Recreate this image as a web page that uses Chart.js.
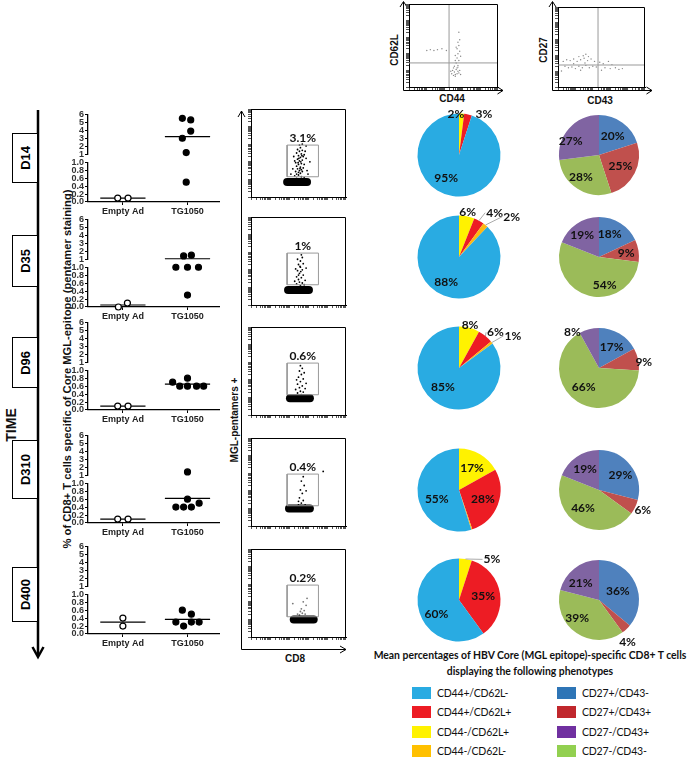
<!DOCTYPE html>
<html>
<head>
<meta charset="utf-8">
<script src="https://cdn.jsdelivr.net/npm/chart.js@4.4.0/dist/chart.umd.min.js"></script>
<style>
body { margin: 0; background: #fff; }
#page { position: relative; width: 688px; height: 759px; overflow: hidden; font-family: "Liberation Sans", Arial, sans-serif; }
canvas { position: absolute; }
svg { position: absolute; left: 0; top: 0; }
.rot { position: absolute; white-space: nowrap; transform: translate(-50%, -50%) rotate(-90deg); font-weight: bold; color: #111; }
.txt { position: absolute; white-space: nowrap; transform: translate(-50%, -50%); font-weight: bold; color: #111; }
.day { position: absolute; left: 12px; width: 24px; border: 1.5px solid #000; background: #fff; display: flex; align-items: center; justify-content: center; }
.day span { writing-mode: vertical-rl; transform: rotate(180deg); font: bold 13px "Liberation Sans", Arial, sans-serif; }
#legTitle { position: absolute; left: 360px; top: 647px; width: 340px; text-align: center; font: bold 10.4px Lato, sans-serif; line-height: 16px; color: #111; white-space: nowrap; }
.leg { position: absolute; font: 10.5px Lato, sans-serif; letter-spacing: -0.2px; color: #111; height: 12px; line-height: 12px; white-space: nowrap; }
.leg i { display: inline-block; width: 19px; height: 12px; vertical-align: top; margin-right: 6px; }
</style>
</head>
<body>
<div id="page">
<svg width="688" height="759">
  <!-- time arrow -->
  <line x1="38" y1="110" x2="38" y2="656" stroke="#000" stroke-width="2.5"/>
  <polyline points="32.5,647 38,657 43.5,647" fill="none" stroke="#000" stroke-width="2.5"/>
  <!-- MGL-pentamers / CD8 axis -->
  <polyline points="241.5,111 241.5,649.5 346,649.5" fill="none" stroke="#000" stroke-width="1"/>
  <polyline points="238,117 241.5,111 245,117" fill="none" stroke="#000" stroke-width="1"/>
  <polyline points="340,646 346,649.5 340,653" fill="none" stroke="#000" stroke-width="1"/>
  <!-- CD44/CD62L axes -->
  <polyline points="403.5,2 403.5,90.5 503,90.5" fill="none" stroke="#000" stroke-width="1"/>
  <polyline points="400,7 403.5,1.5 407,7" fill="none" stroke="#000" stroke-width="1"/>
  <polyline points="497.5,87 503,90.5 497.5,94" fill="none" stroke="#000" stroke-width="1"/>
  <!-- CD43/CD27 axes -->
  <polyline points="552.5,2 552.5,90.5 652,90.5" fill="none" stroke="#000" stroke-width="1"/>
  <polyline points="549,7 552.5,1.5 556,7" fill="none" stroke="#000" stroke-width="1"/>
  <polyline points="646.5,87 652,90.5 646.5,94" fill="none" stroke="#000" stroke-width="1"/>
</svg>
<div class="rot" style="left:11px;top:425px;font-size:14px">TIME</div>
<div class="rot" style="left:67px;top:369px;font-size:11.2px">% of CD8+ T cells specific of Core MGL-epitope (pentamer staining)</div>
<div class="rot" style="left:234px;top:420px;font-size:10px">MGL-pentamers +</div>
<div class="txt" style="left:295px;top:658px;font-size:10px">CD8</div>
<div class="rot" style="left:394px;top:50px;font-size:10px">CD62L</div>
<div class="txt" style="left:452px;top:98px;font-size:10px">CD44</div>
<div class="rot" style="left:543px;top:50px;font-size:10px">CD27</div>
<div class="txt" style="left:600px;top:100px;font-size:10px">CD43</div>
<div id="legTitle">Mean percentages of HBV Core (MGL epitope)-specific CD8+ T cells<br>displaying the following phenotypes</div>
</div>
<script>
Chart.defaults.animation = false;
Chart.defaults.responsive = false;
Chart.defaults.plugins.legend.display = false;
Chart.defaults.plugins.tooltip.enabled = false;

// ---- data ----
const days = ['D14', 'D35', 'D96', 'D310', 'D400'];
const groups = ['Empty Ad', 'TG1050'];
const yTopTicks = [1, 2, 3, 4, 5, 6];
const yBotTicks = [0, 0.2, 0.4, 0.6, 0.8, 1.0];

// % pentamer+ CD8 T cells, one value per mouse; *X = horizontal spread inside the group
const emptyAd = [[0.1, 0.1], [0.0, 0.1], [0.1, 0.1], [0.1, 0.1], [0.4, 0.2]];
const emptyAdX = [[0.92, 1.08], [0.93, 1.07], [0.92, 1.08], [0.92, 1.08], [1.0, 1.0]];
const tg1050 = [
  [5.5, 5.3, 3.9, 3.0, 1.2, 0.5],
  [1.4, 1.5, 1.0, 1.0, 1.0, 0.3],
  [0.7, 0.8, 0.6, 0.6, 0.6, 0.6],
  [1.4, 0.6, 0.4, 0.4, 0.4, 0.5],
  [0.6, 0.5, 0.3, 0.2, 0.3, 0.3]
];
const tg1050X = [
  [1.92, 2.05, 2.05, 1.92, 1.98, 1.98],
  [1.94, 2.06, 1.82, 2.0, 2.17, 2.0],
  [1.77, 2.0, 1.88, 2.0, 2.14, 2.25],
  [2.0, 2.0, 1.82, 1.94, 2.06, 2.18],
  [1.92, 2.06, 1.82, 1.94, 2.06, 2.18]
];
const emptyMean = [0.1, 0.05, 0.1, 0.1, 0.3];
const tgMean = [3.2, 1.05, 0.65, 0.62, 0.37];

// flow dot plots (log decades)
const gatePct = ['3.1%', '1%', '0.6%', '0.4%', '0.2%'];
const gateX = [1.9, 3.55];
const gateY = [1.15, 2.95];
const negCluster = [[1.9, 2.95, 0.85], [1.95, 3.05, 0.85], [2.05, 3.1, 0.95], [2.0, 3.1, 1.0], [2.25, 3.3, 1.0]];
const tailEvents = [
  [[2.3,1.2],[2.4,1.3],[2.5,1.25],[2.6,1.35],[2.35,1.45],[2.55,1.5],[2.7,1.45],[2.45,1.6],[2.6,1.7],[2.4,1.75],[2.75,1.65],[2.5,1.85],[2.65,1.9],[2.35,1.95],[2.8,1.85],[2.55,2.05],[2.7,2.1],[2.45,2.15],[2.6,2.25],[2.75,2.3],[2.5,2.35],[2.65,2.45],[2.4,2.5],[2.8,2.4],[2.55,2.6],[2.7,2.65],[2.6,2.8],[2.45,2.7],[2.9,2.2],[2.3,2.05],[2.85,2.6],[2.2,1.6],[2.95,1.5],[2.1,1.3],[3.0,1.3],[2.65,1.15],[2.4,1.05],[2.8,1.1],[2.55,2.95],[2.7,3.0],[3.1,2.0],[2.25,2.3],[2.9,2.9],[2.5,1.4],[2.65,1.55],[2.58,1.62],[2.48,1.95],[2.62,2.0],[2.52,2.2],[2.68,2.35]],
  [[2.4,1.2],[2.55,1.3],[2.7,1.25],[2.5,1.45],[2.65,1.55],[2.4,1.6],[2.75,1.7],[2.55,1.8],[2.45,1.95],[2.7,2.0],[2.6,2.15],[2.5,2.3],[2.75,2.35],[2.6,2.5],[2.45,2.6],[2.7,2.7],[2.85,1.4],[2.3,1.35],[2.9,2.1],[2.35,2.05],[2.6,1.1],[2.8,1.15],[2.65,2.85],[2.5,1.7],[2.62,1.9],[2.58,2.2]],
  [[2.45,1.25],[2.6,1.35],[2.75,1.3],[2.55,1.55],[2.7,1.65],[2.45,1.75],[2.6,1.9],[2.75,2.05],[2.5,2.15],[2.65,2.3],[2.55,2.5],[2.7,2.65],[2.85,1.5],[2.35,1.45],[2.6,2.8],[2.8,2.4],[2.4,2.0],[2.65,1.15],[2.9,1.8]],
  [[2.5,1.2],[2.65,1.3],[2.75,1.45],[2.55,1.6],[2.7,1.85],[2.6,2.05],[2.8,2.3],[2.65,2.55],[2.75,2.8],[2.5,1.4],[2.85,1.2],[2.6,1.15],[3.8,3.1],[2.9,2.0]],
  [[2.55,1.25],[2.7,1.35],[2.8,1.5],[2.65,1.6],[2.9,1.8],[2.75,2.0],[2.6,1.45],[2.85,1.3],[2.2,1.9],[2.45,1.3],[2.95,2.2]]
];

// example phenotype plots at the top
const cd44Events = [[2.5,0.7],[2.6,0.75],[2.7,0.8],[2.55,0.9],[2.75,0.95],[2.45,1.0],[2.65,1.05],[2.8,0.85],[2.5,1.15],[2.6,0.65],[2.7,1.15],[2.85,1.0],[2.4,0.8],[2.55,1.25],[2.75,1.3],[2.65,1.45],[2.8,1.6],[2.7,1.75],[2.6,1.9],[2.75,2.0],[2.85,2.15],[2.7,2.3],[2.8,2.5],[2.75,2.7],[2.9,1.85],[2.65,2.4],[2.8,3.3],[2.75,1.2],[2.9,0.75],[2.35,0.95],[1.0,2.2],[1.2,2.25],[1.4,2.2],[1.6,2.25],[1.85,2.3],[2.1,2.2],[2.6,1.6],[2.85,2.85]];
const cd44Quad = [2.25, 1.45];
const cd43Events = [[0.3,1.6],[0.5,1.7],[0.7,1.65],[0.9,1.75],[1.1,1.6],[1.3,1.7],[1.5,1.8],[1.7,1.65],[1.9,1.75],[2.1,1.6],[0.4,1.3],[0.6,1.2],[0.8,1.25],[1.0,1.15],[1.2,1.3],[1.4,1.2],[1.6,1.35],[1.8,1.2],[2.0,1.3],[2.2,1.25],[1.45,1.95],[1.6,2.05],[1.2,1.9],[1.75,1.9],[2.4,1.55],[2.6,1.45],[2.9,1.6],[3.1,1.4],[2.7,1.2],[3.0,1.15],[3.3,1.2],[3.5,1.1],[3.7,1.15],[2.5,1.05],[0.2,1.0],[1.3,1.05],[0.9,1.45],[1.55,1.5]];
const cd43Quad = [2.3, 1.375];

// pies, in clockwise order from 12 o'clock
const cd44Labels = ['CD44-/CD62L+', 'CD44+/CD62L+', 'CD44-/CD62L-', 'CD44+/CD62L-'];
const cd44Colors = ['#FFF200', '#ED1C24', '#FDB813', '#29ABE2'];
const cd44Pct = [[2, 3, 0, 95], [6, 4, 2, 88], [8, 6, 1, 85], [17, 28, 0.4, 55], [5, 35, 0, 60]];
const cd27Labels = ['CD27+/CD43-', 'CD27+/CD43+', 'CD27-/CD43-', 'CD27-/CD43+'];
const cd27Colors = ['#4F81BD', '#C0504D', '#9BBB59', '#8064A2'];
const cd27Pct = [[20, 25, 28, 27], [18, 9, 54, 19], [17, 9, 66, 8], [29, 6, 46, 19], [36, 4, 39, 21]];

// legend (order as printed)
const legLeft = [['CD44+/CD62L-', '#29ABE2'], ['CD44+/CD62L+', '#ED1C24'], ['CD44-/CD62L+', '#FFF200'], ['CD44-/CD62L-', '#FFC000']];
const legRight = [['CD27+/CD43-', '#2E75B6'], ['CD27+/CD43+', '#C0272D'], ['CD27-/CD43+', '#7030A0'], ['CD27-/CD43-', '#92D050']];

// ---- layout ----
const rowTop = [114, 219, 322, 435, 546];
const flowTop = [109, 217, 327, 438, 549];
const pieY = [155, 257, 368, 490, 600];
const dayBox = [[133, 181], [235, 285], [337, 386], [440, 497], [567, 620]];
const meanHalf = 0.35;

// label placement of pie percentages: f = radius factor, da = angle nudge (deg), lead = leader line
const cd44Place = [
  [{ da: -8, f: 0.98 }, { da: 19, f: 1.15 }, null, { da: 20, f: 0.64 }],
  [{ f: 1.11 }, { da: 10, f: 1.37, lead: 1 }, { da: 13, f: 1.6, lead: 1 }, { da: 5, f: 0.69 }],
  [{ f: 1.07 }, { da: 6, f: 1.23, lead: 1 }, { da: 7, f: 1.51, lead: 1 }, { da: 13, f: 0.6 }],
  [{}, {}, null, { da: -14, f: 0.58 }],
  [{ da: 30, f: 1.26, lead: 1 }, { f: 0.59 }, null, { da: -14, f: 0.64 }]
];
const cd27Place = [
  [{ f: 0.58 }, { f: 0.6 }, { da: 7, f: 0.71 }, { da: -15, f: 0.79 }],
  [{ da: -7 }, { f: 0.69 }, { da: -26, f: 0.71 }, { da: -4, f: 0.68 }],
  [{}, { da: 5, f: 1.13 }, { da: 6 }, { da: -22, f: 1.12 }],
  [{ da: 3, f: 0.65 }, { f: 1.21 }, { da: 13, f: 0.6 }, {}],
  [{ f: 0.52 }, { da: 9, f: 1.27 }, { da: 16, f: 0.71 }, { da: -10 }]
];

const page = document.getElementById('page');
function makeCanvas(left, top, w, h) {
  const c = document.createElement('canvas');
  c.width = w; c.height = h;
  c.style.left = left + 'px'; c.style.top = top + 'px';
  c.style.width = w + 'px'; c.style.height = h + 'px';
  page.appendChild(c);
  return c.getContext('2d');
}

// day boxes
days.forEach((d, i) => {
  const b = document.createElement('div');
  b.className = 'day';
  b.style.top = dayBox[i][0] + 'px';
  b.style.height = (dayBox[i][1] - dayBox[i][0]) + 'px';
  b.innerHTML = '<span>' + d + '</span>';
  page.appendChild(b);
});

// legend
[legLeft, legRight].forEach((col, c) => {
  col.forEach(([name, color], j) => {
    const el = document.createElement('div');
    el.className = 'leg';
    el.style.left = (c ? 557 : 412) + 'px';
    el.style.top = (687 + j * 19.3) + 'px';
    el.innerHTML = '<i style="background:' + color + '"></i>' + name;
    page.appendChild(el);
  });
});

// ---- scatter plots with broken y axis ----
const axisFont = { family: '"Liberation Sans", Arial', size: 9, weight: 'bold' };
function yAxis(weight, min, max, ticks, fmt) {
  return {
    type: 'linear', position: 'left', stack: 'y', stackWeight: weight, min, max,
    afterBuildTicks: s => { s.ticks = ticks.map(v => ({ value: v })); },
    afterFit: s => { s.width = 28; },
    ticks: { font: axisFont, color: '#333', padding: 1, autoSkip: false, callback: fmt },
    grid: { drawOnChartArea: false, tickLength: 3, color: '#000', tickWidth: 1 },
    border: { color: '#000', width: 1.3 }
  };
}

function pointSet(vals, xs, top, fill) {
  return {
    type: 'scatter',
    data: vals.map((v, k) => ({ x: xs[k], y: v })).filter(p => top ? p.y > 1 : p.y <= 1),
    yAxisID: top ? 'yTop' : 'yBot',
    pointRadius: 3, backgroundColor: fill, borderColor: '#000', borderWidth: 1.2,
    clip: false, order: 1
  };
}
function meanSet(x, m) {
  return {
    type: 'line', data: [{ x: x - meanHalf, y: m }, { x: x + meanHalf, y: m }],
    yAxisID: m > 1 ? 'yTop' : 'yBot', borderColor: '#000', borderWidth: 1.2,
    pointRadius: 0, clip: false, order: 2
  };
}

days.forEach((d, i) => {
  const ctx = makeCanvas(60, rowTop[i] - 6, 165, 110);
  new Chart(ctx, {
    type: 'scatter',
    data: {
      datasets: [
        meanSet(1, emptyMean[i]), meanSet(2, tgMean[i]),
        pointSet(emptyAd[i], emptyAdX[i], false, '#fff'), pointSet(emptyAd[i], emptyAdX[i], true, '#fff'),
        pointSet(tg1050[i], tg1050X[i], false, '#000'), pointSet(tg1050[i], tg1050X[i], true, '#000')
      ]
    },
    options: {
      layout: { padding: { top: 6, right: 5, left: 0, bottom: 0 } },
      scales: {
        x: {
          type: 'linear', min: 0.46, max: 2.5,
          afterBuildTicks: s => { s.ticks = [{ value: 1 }, { value: 2 }]; },
          afterFit: s => { s.height = 16; },
          ticks: { font: axisFont, color: '#222', padding: 1, autoSkip: false, callback: v => groups[v - 1] },
          grid: { drawOnChartArea: false, tickLength: 3, color: '#000' },
          border: { color: '#000', width: 1.3 }
        },
        // stacked left axes: the last one listed is placed on top
        yBot: yAxis(39, 0, 1, yBotTicks, v => v.toFixed(1)),
        yGap: {
          type: 'linear', position: 'left', stack: 'y', stackWeight: 8,
          afterFit: s => { s.width = 28; },
          ticks: { display: false }, grid: { display: false }, border: { display: false }
        },
        yTop: yAxis(39, 1, 6, yTopTicks, v => String(v))
      }
    }
  });
});

// ---- flow cytometry dot plots ----
function logTicks(s) {
  const t = [];
  for (let dd = Math.floor(s.min); dd < s.max; dd++) {
    for (let k = 1; k <= 9; k++) {
      const v = dd + Math.log10(k);
      if (v >= s.min && v <= s.max) t.push({ value: v });
    }
  }
  s.ticks = t;
}
function logAxis(pos, max) {
  return {
    type: 'linear', position: pos, min: 0, max,
    afterBuildTicks: logTicks,
    afterFit: s => { if (pos === 'left') s.width = 6; else s.height = 4; },
    ticks: { display: false, autoSkip: false },
    grid: { drawOnChartArea: false, tickLength: 3, color: '#555' },
    border: { color: '#000', width: 1 }
  };
}
const frame = {
  id: 'frame',
  afterDraw(chart, args, opts) {
    const { ctx, chartArea: a, scales } = chart;
    ctx.save();
    ctx.strokeStyle = '#000'; ctx.lineWidth = 1;
    ctx.beginPath();
    ctx.moveTo(a.left, a.top + 0.5); ctx.lineTo(a.right - 0.5, a.top + 0.5); ctx.lineTo(a.right - 0.5, a.bottom);
    ctx.stroke();
    if (opts.text) {
      ctx.font = 'bold 12px Lato, sans-serif';
      ctx.fillStyle = '#111'; ctx.textAlign = 'center'; ctx.textBaseline = 'bottom';
      ctx.fillText(opts.text, scales.x.getPixelForValue((gateX[0] + gateX[1]) / 2), scales.y.getPixelForValue(gateY[1]) - 1);
    }
    ctx.restore();
  }
};

days.forEach((d, i) => {
  const ctx = makeCanvas(245, flowTop[i] - 4, 105, 96);
  const c = negCluster[i];
  new Chart(ctx, {
    type: 'scatter',
    data: {
      datasets: [
        { type: 'line', data: [{ x: gateX[0], y: gateY[0] }, { x: gateX[1], y: gateY[0] }, { x: gateX[1], y: gateY[1] }, { x: gateX[0], y: gateY[1] }, { x: gateX[0], y: gateY[0] }],
          borderColor: '#999', borderWidth: 1, pointRadius: 0 },
        { type: 'line', data: [{ x: c[0], y: c[2] }, { x: c[1], y: c[2] }], borderColor: '#000', borderWidth: 8, borderCapStyle: 'round', pointRadius: 0 },
        { data: tailEvents[i].map(([x, y]) => ({ x, y })), pointRadius: 0.9, backgroundColor: i === 4 ? '#777' : '#000', borderWidth: 0 }
      ]
    },
    options: {
      layout: { padding: { top: 4, right: 4 } },
      plugins: { frame: { text: gatePct[i] } },
      scales: { x: logAxis('bottom', 5), y: logAxis('left', 5) }
    },
    plugins: [frame]
  });
});

function quadPlot(left, top, w, h, events, quad) {
  const ctx = makeCanvas(left, top, w, h);
  new Chart(ctx, {
    type: 'scatter',
    data: {
      datasets: [
        { type: 'line', data: [{ x: quad[0], y: 0 }, { x: quad[0], y: 5 }], borderColor: '#999', borderWidth: 1, pointRadius: 0 },
        { type: 'line', data: [{ x: 0, y: quad[1] }, { x: 5, y: quad[1] }], borderColor: '#999', borderWidth: 1, pointRadius: 0 },
        { data: events.map(([x, y]) => ({ x, y })), pointRadius: 0.7, backgroundColor: '#888', borderWidth: 0 }
      ]
    },
    options: {
      layout: { padding: { top: 4, right: 4 } },
      plugins: { frame: {} },
      scales: { x: logAxis('bottom', 5), y: logAxis('left', 5) }
    },
    plugins: [frame]
  });
}
quadPlot(403, 0, 99, 91, cd44Events, cd44Quad);
quadPlot(552, 3, 97, 88, cd43Events, cd43Quad);

// ---- pies ----
const pieLabels = {
  id: 'pieLabels',
  afterDatasetsDraw(chart, args, opts) {
    const { ctx } = chart;
    const vals = chart.data.datasets[0].data;
    ctx.save();
    ctx.font = 'bold 12px Lato, sans-serif';
    ctx.fillStyle = '#111'; ctx.textAlign = 'center'; ctx.textBaseline = 'middle';
    chart.getDatasetMeta(0).data.forEach((arc, k) => {
      const p = opts.place[k];
      if (vals[k] < 1 || !p) return;
      const mid = (arc.startAngle + arc.endAngle) / 2;
      const a = mid + (p.da || 0) * Math.PI / 180;
      const r = arc.outerRadius, f = p.f || 0.62;
      const lx = arc.x + Math.cos(a) * r * f, ly = arc.y + Math.sin(a) * r * f;
      const txt = vals[k] + '%';
      if (p.lead) {
        const tw = ctx.measureText(txt).width;
        ctx.strokeStyle = '#aaa'; ctx.lineWidth = 1;
        ctx.beginPath();
        ctx.moveTo(arc.x + Math.cos(mid) * r, arc.y + Math.sin(mid) * r);
        ctx.lineTo(lx - tw / 2 - 1, ly);
        ctx.stroke();
      }
      ctx.fillText(txt, lx, ly);
    });
    ctx.restore();
  }
};
function pie(cx, cy, r, vals, colors, names, place) {
  const ctx = makeCanvas(cx - 75, cy - 60, 150, 120);
  new Chart(ctx, {
    type: 'pie',
    data: { labels: names, datasets: [{ data: vals, backgroundColor: colors, borderWidth: 0, radius: r }] },
    options: { plugins: { pieLabels: { place } } },
    plugins: [pieLabels]
  });
}
days.forEach((d, i) => {
  pie(459, pieY[i], 41.5, cd44Pct[i], cd44Colors, cd44Labels, cd44Place[i]);
  pie(599, pieY[i], 40, cd27Pct[i], cd27Colors, cd27Labels, cd27Place[i]);
});
</script>
</body>
</html>
